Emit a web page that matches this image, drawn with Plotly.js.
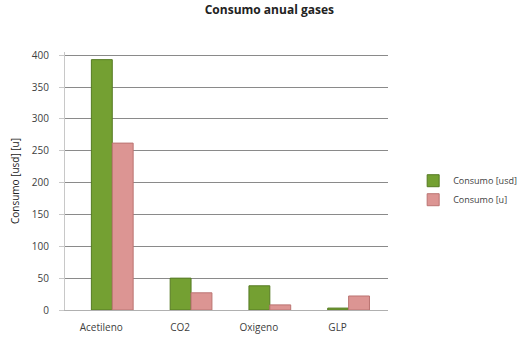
<!DOCTYPE html>
<html><head><meta charset="utf-8">
<script src="https://cdn.plot.ly/plotly-3.0.1.min.js"></script>
<style>html,body{margin:0;padding:0;background:#fff}#c{width:523px;height:349px}</style>
</head><body><div id="c"></div>
<script>
const categories = ["Acetileno", "CO2", "Oxigeno", "GLP"];
const seriesNames = ["Consumo [usd]", "Consumo [u]"];
const usdValues = [393, 50, 38, 3];
const uValues = [262, 27, 8, 22];
const yTicks = [0, 50, 100, 150, 200, 250, 300, 350, 400];

const traces = [
  {type: "bar", name: seriesNames[0], x: categories, y: usdValues,
   marker: {color: "#74a032", line: {color: "#557a22", width: 1}}},
  {type: "bar", name: seriesNames[1], x: categories, y: uValues,
   marker: {color: "#dc9593", line: {color: "#bb7472", width: 1}}}
];

const layout = {
  width: 523, height: 349,
  margin: {l: 65, r: 135, t: 52, b: 39},
  paper_bgcolor: "#fff", plot_bgcolor: "#fff",
  font: {family: "Open Sans, Noto Sans, sans-serif", color: "#404040", size: 10},
  title: {text: "<b>Consumo anual gases</b>", x: 0.515, xanchor: "center", y: 0.985, yanchor: "top",
          font: {size: 12, color: "#222"}},
  barmode: "group", bargap: 0.47, bargroupgap: 0.0,
  xaxis: {type: "category", range: [-0.6, 3.5], showgrid: false, zeroline: false,
          showline: true, linecolor: "#b0b0b0", ticks: "", ticklabelshift: -11,
          ticklabelstandoff: 8, tickfont: {size: 10, color: "#404040"}, fixedrange: true},
  yaxis: {range: [0, 405], tickvals: yTicks, showgrid: true, gridcolor: "#8a8a8a", gridwidth: 1,
          zeroline: false, showline: true, linecolor: "#c8c8c8", ticks: "outside", ticklen: 5,
          tickcolor: "#c8c8c8", ticklabelstandoff: 8, tickfont: {size: 10, color: "#404040"},
          title: {text: "Consumo [usd] [u]", font: {size: 10, color: "#222"}, standoff: 10}},
  legend: {xref: "container", yref: "container", x: 0.79, y: 0.455, xanchor: "left", yanchor: "middle",
           font: {size: 9, color: "#404040"}, tracegroupgap: 12, itemwidth: 30, bgcolor: "rgba(0,0,0,0)"},
  showlegend: true
};

Plotly.newPlot("c", traces, layout, {displayModeBar: false, staticPlot: true});
</script>
</body></html>
